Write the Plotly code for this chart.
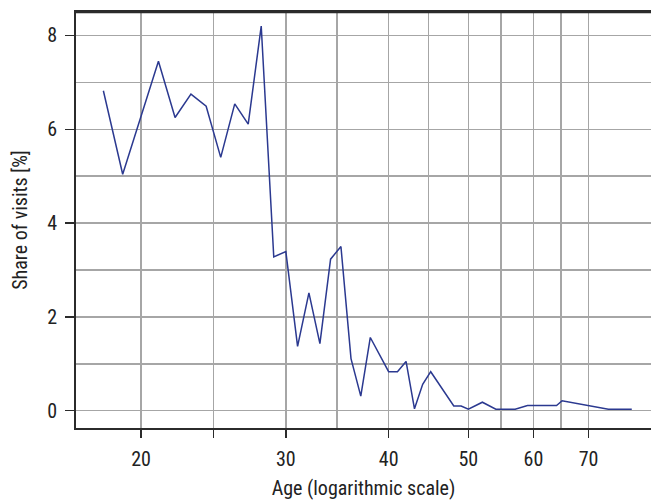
import plotly.graph_objects as go

# Data
ages = [18, 19, 21, 22, 23, 24, 25, 26, 27, 28, 29, 30, 31, 32, 33, 34, 35, 36, 37, 38,
        40, 41, 42, 43, 44, 45, 48, 49, 50, 52, 54, 57, 59, 64, 65, 74, 79]
share = [6.82, 5.04, 7.45, 6.25, 6.75, 6.49, 5.40, 6.54, 6.11, 8.20, 3.28, 3.39, 1.37, 2.51,
         1.43, 3.23, 3.50, 1.11, 0.31, 1.56, 0.83, 0.83, 1.05, 0.04, 0.56, 0.83, 0.10, 0.10,
         0.03, 0.18, 0.03, 0.03, 0.11, 0.11, 0.21, 0.03, 0.03]

x_tickvals = [20, 24.49, 30, 40, 50, 60, 70]
x_ticktext = ["20", "", "30", "40", "50", "60", "70"]
x_minor_vals = [34.64, 44.72, 54.77, 64.81]
y_tickvals = [0, 2, 4, 6, 8]
y_minor_vals = [1, 3, 5, 7]

FONT = "Liberation Sans Narrow, Roboto Condensed, DejaVu Sans Condensed, Arial Narrow, sans-serif"
GRID = "#a6a6a6"
AXIS = "#2b2b2b"

fig = go.Figure()
fig.add_trace(go.Scatter(
    x=ages, y=share, mode="lines",
    line=dict(color="#2b3990", width=1.5),
    hoverinfo="skip", showlegend=False,
))

fig.update_layout(
    width=651, height=500,
    margin=dict(l=76, r=0, t=12, b=72),
    paper_bgcolor="white", plot_bgcolor="white",
    font=dict(family=FONT, size=20, color="#222222"),
    xaxis=dict(
        type="log",
        range=[1.222, 1.921],
        tickmode="array", tickvals=x_tickvals, ticktext=x_ticktext,
        ticks="outside", ticklen=8, tickwidth=1.5, tickcolor=AXIS,
        showgrid=True, gridcolor=GRID, gridwidth=1.5,
        minor=dict(tickmode="array", tickvals=x_minor_vals, showgrid=True,
                   gridcolor=GRID, gridwidth=1.5, ticks=""),
        showline=True, linecolor=AXIS, linewidth=2, mirror=True,
        zeroline=False,
        ticklabelstandoff=4,
        title=dict(text="Age (logarithmic scale)", standoff=20,
                   font=dict(family=FONT, size=20, color="#222222")),
        automargin=False,
    ),
    yaxis=dict(
        range=[-0.37, 8.5],
        tickmode="array", tickvals=y_tickvals,
        ticks="outside", ticklen=9, tickwidth=1.5, tickcolor=AXIS,
        showgrid=True, gridcolor=GRID, gridwidth=1.5,
        minor=dict(tickmode="array", tickvals=y_minor_vals, showgrid=True,
                   gridcolor=GRID, gridwidth=1.5, ticks=""),
        showline=True, linecolor=AXIS, linewidth=2,
        zeroline=False,
        ticklabelstandoff=4,
        title=dict(text="Share of visits [%]", standoff=14,
                   font=dict(family=FONT, size=20, color="#222222")),
        automargin=False,
    ),
    shapes=[dict(type="line", xref="paper", yref="paper", x0=0, x1=1, y0=1, y1=1,
                 line=dict(color=AXIS, width=2.5), layer="above")],
)

fig.write_html(
    "out.html",
    config={"displayModeBar": False, "staticPlot": True},
    post_script="document.body.style.margin='0px';document.body.style.overflow='hidden';",
)
